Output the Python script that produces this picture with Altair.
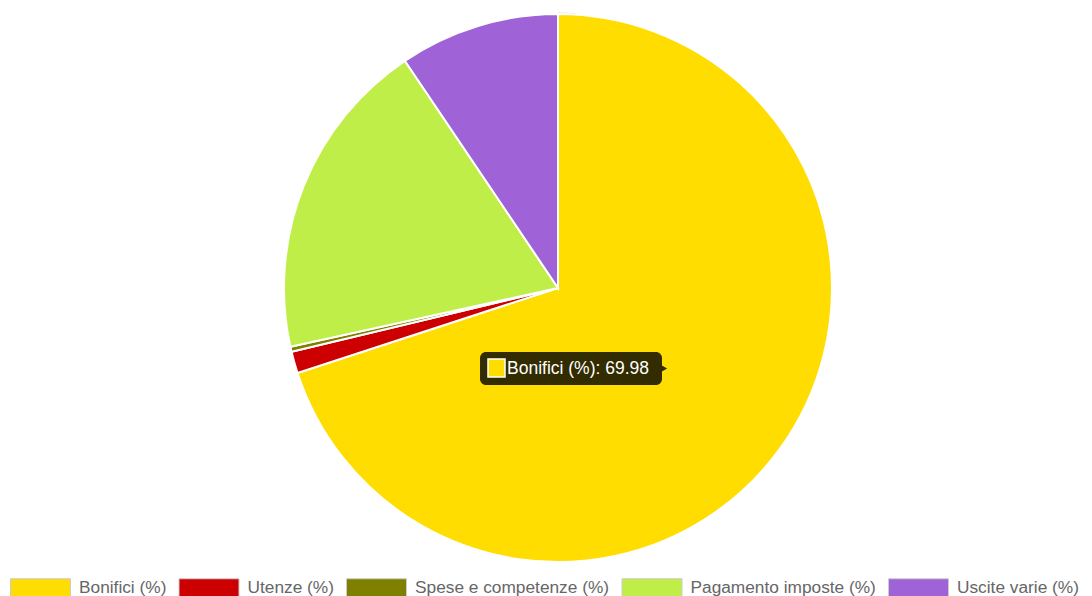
import altair as alt
import pandas as pd

categories = ["Bonifici (%)", "Utenze (%)", "Spese e competenze (%)", "Pagamento imposte (%)", "Uscite varie (%)"]
values = [69.98, 1.28, 0.30, 19.00, 9.44]
colors = ["#FFDD00", "#CC0000", "#808000", "#BFEE48", "#A063D7"]

df = pd.DataFrame({"cat": categories, "val": values, "idx": list(range(len(categories)))})

W, H = 1076, 588
CX, CY, R = 550, 280, 274

color_scale = alt.Scale(domain=categories, range=colors)

shadow = alt.Chart(pd.DataFrame({"v": [1]})).mark_arc(
    outerRadius=R + 1.5, fill="#d8d8d8"
).encode(theta=alt.Theta("v:Q"), x=alt.value(CX), y=alt.value(CY))

pie = alt.Chart(df).mark_arc(outerRadius=R, stroke="white", strokeWidth=2).encode(
    theta=alt.Theta("val:Q", stack=True),
    order=alt.Order("idx:Q"),
    color=alt.Color(
        "cat:N",
        scale=color_scale,
        sort=categories,
        title=None,
        legend=alt.Legend(
            orient="none",
            legendX=2,
            legendY=549,
            direction="horizontal",
            columns=5,
            symbolType="M-1,-0.3L1,-0.3L1,0.3L-1,0.3Z",
            symbolSize=3600,
            symbolStrokeColor="#cccccc",
            symbolStrokeWidth=1,
            symbolOpacity=1,
            labelFont="Liberation Sans",
            labelFontSize=17.3,
            labelColor="#666666",
            labelOffset=8,
            columnPadding=9.5,
            padding=0,
            labelLimit=400,
        ),
    ),
    x=alt.value(CX),
    y=alt.value(CY),
)

tip_df = pd.DataFrame({"label": [f"{categories[0]}: {values[0]:.2f}"]})

tip_box = alt.Chart(tip_df).mark_rect(
    fill="#332C00", cornerRadius=6
).encode(x=alt.value(472), x2=alt.value(654), y=alt.value(344), y2=alt.value(377))

tip_arrow = alt.Chart(tip_df).mark_point(
    shape="triangle-right", filled=True, fill="#332C00", size=90, opacity=1
).encode(x=alt.value(655), y=alt.value(360.5))

tip_swatch = alt.Chart(tip_df).mark_rect(
    fill=colors[0], stroke="white", strokeWidth=1.5
).encode(x=alt.value(480), x2=alt.value(497), y=alt.value(351), y2=alt.value(369))

tip_text = alt.Chart(tip_df).mark_text(
    align="left", baseline="middle", color="white", font="Liberation Sans", fontSize=17.5
).encode(text="label:N", x=alt.value(499), y=alt.value(361))

chart = alt.layer(shadow, pie, tip_box, tip_arrow, tip_swatch, tip_text).properties(
    width=W, height=H, padding=0, autosize=alt.AutoSizeParams(type="none")
).configure_view(stroke=None)

chart.save("out.html", embed_options={"renderer": "svg", "actions": False})
